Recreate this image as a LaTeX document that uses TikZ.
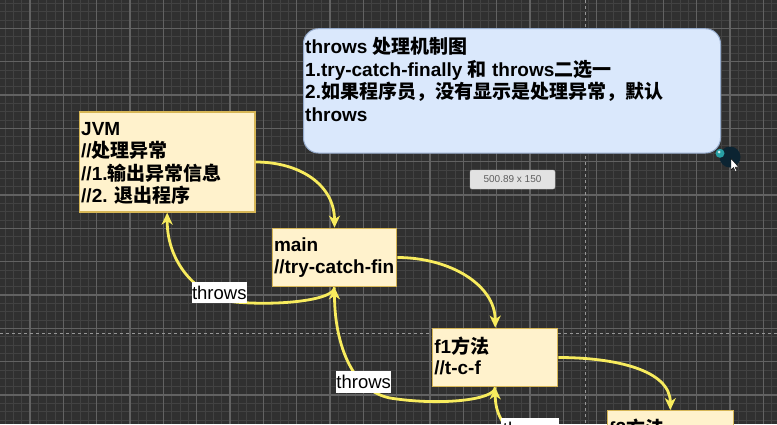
\documentclass[tikz,border=0pt]{standalone}
\usepackage{fontspec}
\setmainfont{Liberation Sans}
\newfontfamily\cjk{Noto Sans CJK SC}
\newcommand\zh[1]{{\cjk #1}}
\usetikzlibrary{arrows.meta}
\definecolor{bgc}{RGB}{48,48,48}
\definecolor{minorc}{RGB}{66,66,66}
\definecolor{majorc}{RGB}{98,98,98}
\definecolor{pagec}{RGB}{150,150,150}
\definecolor{boxfill}{RGB}{255,242,204}
\definecolor{boxline}{RGB}{214,182,86}
\definecolor{bluefill}{RGB}{218,232,252}
\definecolor{blueline}{RGB}{150,172,205}
\definecolor{arrowc}{RGB}{248,236,94}
\definecolor{tipfill}{RGB}{226,226,226}
\definecolor{tipline}{RGB}{196,196,196}
\definecolor{tiptext}{RGB}{95,95,95}
\definecolor{knob}{RGB}{12,36,50}
\definecolor{tealc}{RGB}{40,160,165}
\tikzset{
  minorline/.style={draw=minorc, line width=0.8pt},
  majorline/.style={draw=majorc, line width=1.1pt},
  pageline/.style={draw=pagec, line width=1pt, dash pattern=on 3pt off 3pt},
  ybox/.style={draw=boxline, fill=boxfill, line width=1.2pt},
  bbox/.style={draw=blueline, fill=bluefill, line width=1pt, rounded corners=15pt},
  txt/.style={inner sep=0pt, anchor=base west, font=\fontsize{19}{22}\selectfont\bfseries},
  lbl/.style={fill=white, inner xsep=0.5pt, inner ysep=0pt, minimum height=21.6pt, font=\fontsize{18.5}{20}\selectfont},
  flow/.style={draw=arrowc, line width=2.8pt, -{Stealth[length=12pt, width=11pt, inset=3.5pt]}},
}
\begin{document}
\begin{tikzpicture}[x=1pt, y=-1pt]
\useasboundingbox (0,0) rectangle (777,424);
\clip (0,0) rectangle (777,424);
\fill[bgc] (0,0) rectangle (777,424);
% minor grid
\foreach \i in {0,...,93} \draw[minorline] ({5+8.3333*\i},0) -- ({5+8.3333*\i},424);
\foreach \j in {0,...,51} \draw[minorline] (0,{3.333+8.3333*\j}) -- (777,{3.333+8.3333*\j});
% major grid
\foreach \i in {0,...,23} \draw[majorline] ({30+33.333*\i},0) -- ({30+33.333*\i},424);
\foreach \j in {0,...,12} \draw[majorline] (0,{28.333+33.333*\j}) -- (777,{28.333+33.333*\j});
% page breaks
\draw[pageline] (0,333.3) -- (777,333.3);
\draw[pageline] (585,0) -- (585,424);

% blue note
\draw[bbox] (303.5,28.7) rectangle (720.5,153);
\node[txt] (n1) at (305,53.5) {throws \zh{处理机制图}};
\node[txt] (n2) at (305,76) {1.try-catch-finally \zh{和} throws\zh{二选一}};
\node[txt] (n3) at (305,98.5) {2.\zh{如果程序员，没有显示是处理异常，默认}};
\node[txt] (n4) at (305,121) {throws};

% boxes
\node[ybox, minimum width=175.7pt, minimum height=100pt, inner sep=0pt] (jvm) at (167.2,162) {};
\node[ybox, minimum width=124.4pt, minimum height=58.4pt, inner sep=0pt] (main) at (334.5,257.5) {};
\node[ybox, minimum width=125pt, minimum height=58.4pt, inner sep=0pt] (f1) at (495.2,357.5) {};
\node[ybox, minimum width=126pt, minimum height=58.4pt, inner sep=0pt] (f2) at (670.3,439.9) {};

\node[txt] (j1) at (81,135) {JVM};
\node[txt] (j2) at (81,157.5) {//\zh{处理异常}};
\node[txt] (j3) at (81,180) {//1.\zh{输出异常信息}};
\node[txt] (j4) at (81,202.5) {//2. \zh{退出程序}};
\node[txt] (m1) at (273.8,251.7) {main};
\node[txt] (m2) at (273.8,273.5) {//try-catch-fin};
\node[txt] (a1) at (434.2,353.3) {f1\zh{方法}};
\node[txt] (a2) at (434.2,374.5) {//t-c-f};
\node[txt] (b1) at (609,435.7) {f2\zh{方法}};

% calls
\draw[flow] (jvm.east) .. controls (300,162) and (334.5,185) .. (main.north);
\draw[flow] (main.east) .. controls (450,257.5) and (495.2,285) .. (f1.north);
\draw[flow] (f1.east) .. controls (615,357.5) and (670.3,370) .. (f2.north);

% throws
\coordinate (t1) at (235,302);
\coordinate (t2) at (390,398);
\coordinate (t3) at (550,450);
\draw[flow] (main.south) .. controls (334.5,300) and (280,306) .. (t1) .. controls (200,298) and (167,265) .. (jvm.south);
\draw[flow] (f1.south) .. controls (495.2,400) and (440,406) .. (t2) .. controls (350,390) and (334.5,340) .. (main.south);
\draw[flow] (f2.south) .. controls (670.3,485) and (590,470) .. (t3) .. controls (510,440) and (495.2,420) .. (f1.south);

\node[lbl] (l1) at (219.3,292.5) {throws};
\node[lbl] (l2) at (363.7,381.8) {throws};
\node[lbl, minimum width=58pt] (l3) at (530.2,429.1) {throws};

% size tooltip
\node[draw=tipline, fill=tipfill, rounded corners=2pt, minimum width=85pt, minimum height=19pt, inner sep=0pt, text=tiptext, font=\fontsize{10}{12}\selectfont] (tip) at (512.5,179.5) {500.89 x 150};

% handle and cursor
\fill[knob] (730,157) circle (10.5);
\fill[tealc] (720,153.3) circle (4.5);
\fill[white!80!tealc] (719,152) circle (1.5);
\filldraw[fill=white, draw=black, line width=0.4pt] (731,158.5) -- (731,170) -- (733.5,167.5) -- (735.5,172) -- (737,171.3) -- (735,167) -- (738.5,167) -- cycle;
\end{tikzpicture}
\end{document}
